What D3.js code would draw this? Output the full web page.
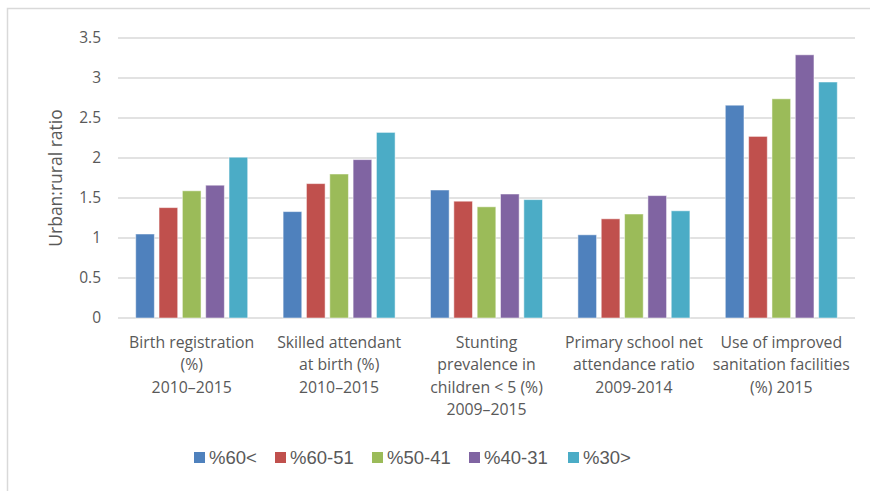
<!DOCTYPE html>
<html>
<head>
<meta charset="utf-8">
<script src="https://cdn.jsdelivr.net/npm/d3@7"></script>
<style>
  html, body { margin: 0; padding: 0; background: #fff; }
  svg { display: block; }
</style>
</head>
<body>
<svg id="chart" width="870" height="491"></svg>
<script>
const categories = [
  ["Birth registration", "(%)", "2010\u20132015"],
  ["Skilled attendant", "at birth (%)", "2010\u20132015"],
  ["Stunting", "prevalence in", "children < 5 (%)", "2009\u20132015"],
  ["Primary school net", "attendance ratio", "2009-2014"],
  ["Use of improved", "sanitation facilities", "(%) 2015"]
];
const seriesNames = ["%60<", "%60-51", "%50-41", "%40-31", "%30>"];
const seriesColors = ["#4F81BD", "#C0504D", "#9BBB59", "#8064A2", "#4BACC6"];
const s60plus = [1.05, 1.33, 1.60, 1.04, 2.66];
const s60_51  = [1.38, 1.68, 1.46, 1.24, 2.27];
const s50_41  = [1.59, 1.80, 1.39, 1.30, 2.74];
const s40_31  = [1.66, 1.98, 1.55, 1.53, 3.29];
const s30less = [2.01, 2.32, 1.48, 1.34, 2.95];
const seriesValues = [s60plus, s60_51, s50_41, s40_31, s30less];
const yTicks = [0, 0.5, 1, 1.5, 2, 2.5, 3, 3.5];
const yTitle = "Urban:rural ratio";

const svg = d3.select("#chart");
const mLeft = 118, mRight = 855, mTop = 38, mBottom = 318;

// outer frame
svg.append("rect").attr("x", 7.5).attr("y", 8.5).attr("width", 880).attr("height", 500)
  .attr("fill", "none").attr("stroke", "#d9d9d9").attr("stroke-width", 1.5);

const x0 = d3.scaleBand().domain(d3.range(categories.length)).range([mLeft, mRight]).paddingInner(0).paddingOuter(0);
const y = d3.scaleLinear().domain([0, 3.5]).range([mBottom, mTop]);

// gridlines
svg.append("g").selectAll("line").data(yTicks).join("line")
  .attr("x1", mLeft).attr("x2", mRight)
  .attr("y1", d => y(d)).attr("y2", d => y(d))
  .attr("stroke", "#d9d9d9").attr("stroke-width", 1.5);

// y tick labels
svg.append("g").selectAll("text").data(yTicks).join("text")
  .attr("x", 101).attr("y", d => y(d)).attr("dy", "0.35em")
  .attr("text-anchor", "end")
  .attr("font-family", "Open Sans, sans-serif").attr("font-size", 15.5)
  .attr("fill", "#595959")
  .text(d => d);

// y title
svg.append("text")
  .attr("transform", `translate(62,${(mTop + mBottom) / 2}) rotate(-90)`)
  .attr("text-anchor", "middle")
  .attr("font-family", "Open Sans, sans-serif").attr("font-size", 17.5)
  .attr("fill", "#595959")
  .text(yTitle);

// bars
const groupInner = 112;
const x1 = d3.scaleBand().domain(d3.range(seriesNames.length)).range([0, groupInner]).paddingInner(0.2);
const groups = svg.append("g").selectAll("g").data(categories).join("g")
  .attr("transform", (d, i) => `translate(${x0(i) + (x0.bandwidth() - groupInner) / 2},0)`);
groups.selectAll("rect").data((d, i) => seriesValues.map((s, k) => ({k, v: s[i]}))).join("rect")
  .attr("x", d => x1(d.k))
  .attr("width", x1.bandwidth())
  .attr("y", d => y(d.v))
  .attr("height", d => y(0) - y(d.v))
  .attr("fill", d => seriesColors[d.k])
  .attr("stroke", "#ffffff").attr("stroke-opacity", 0.5).attr("stroke-width", 1);

// category labels
const catG = svg.append("g");
categories.forEach((lines, i) => {
  const cx = x0(i) + x0.bandwidth() / 2;
  const t = catG.append("text")
    .attr("text-anchor", "middle")
    .attr("font-family", "Open Sans, sans-serif").attr("font-size", 15.8)
    .attr("fill", "#595959");
  lines.forEach((ln, j) => {
    t.append("tspan").attr("x", cx)
      .attr("y", 342.5 + j * 22.3).attr("dy", "0.35em").text(ln);
  });
});

// legend
const legendX = [194, 275, 372, 469, 568];
const lg = svg.append("g").selectAll("g").data(seriesNames).join("g")
  .attr("transform", (d, i) => `translate(${legendX[i]},458)`);
lg.append("rect").attr("x", 0).attr("y", -6).attr("width", 11).attr("height", 11)
  .attr("fill", (d, i) => seriesColors[i]);
lg.append("text").attr("x", 15).attr("y", 0).attr("dy", "0.35em")
  .attr("font-family", "Liberation Sans, Arial, sans-serif").attr("font-size", 18.5)
  .attr("fill", "#595959")
  .text(d => d);
</script>
</body>
</html>
